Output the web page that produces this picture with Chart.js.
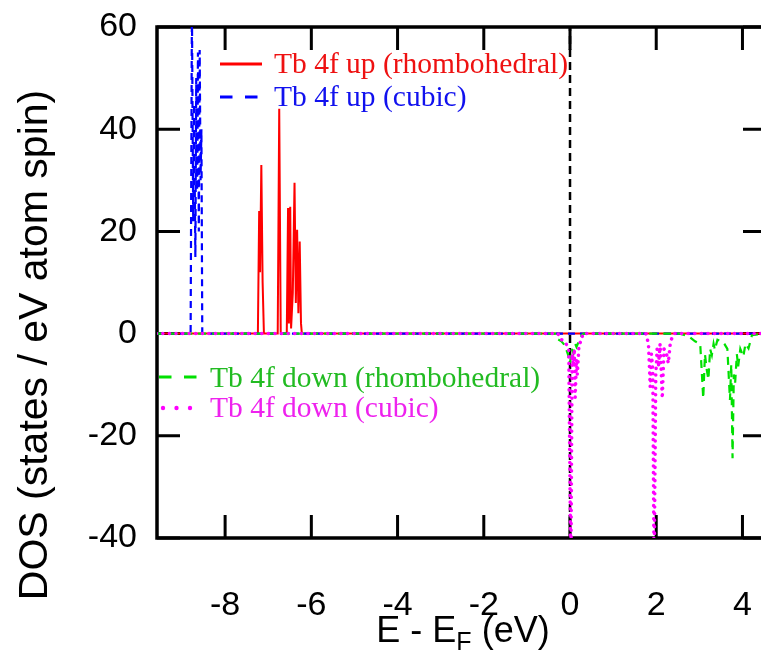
<!DOCTYPE html>
<html><head><meta charset="utf-8">
<script src="https://cdn.jsdelivr.net/npm/chart.js@4.4.1/dist/chart.umd.min.js"></script>
<style>html,body{margin:0;padding:0;background:#fff;}</style>
</head><body>
<canvas id="c" width="761" height="651"></canvas>
<script>
const xTicks = [-8, -6, -4, -2, 0, 2, 4];
const yTicks = [60, 40, 20, 0, -20, -40];
const xMin = -9.58, xMax = 4.43, yMin = -40, yMax = 60;

const labels = ['Tb 4f up (rhombohedral)', 'Tb 4f up (cubic)', 'Tb 4f down (rhombohedral)', 'Tb 4f down (cubic)'];
const xTitle = ['E - E', 'F', ' (eV)'];
const yTitle = 'DOS (states / eV atom spin)';

const upRhomboE = [-9.6, -7.24, -7.21, -7.19, -7.16, -7.13, -7.10, -6.78, -6.745, -6.71, -6.57, -6.54, -6.52, -6.49, -6.47, -6.43, -6.39, -6.36, -6.33, -6.30, -6.27, -6.24, -6.22, 4.5];
const upRhomboDOS = [0, 0, 24, 12, 33, 10, 0, 0, 44, 0, 0, 24.6, 2, 24.8, 1, 8, 29.5, 6, 20.3, 4, 18, 2, 0, 0];

const upCubicE = [-9.6, -8.80, -8.77, -8.74, -8.72, -8.69, -8.67, -8.65, -8.63, -8.61, -8.59, -8.57, -8.55, -8.53, 4.5];
const upCubicDOS = [0, 0, 64, 22, 45, 15, 50, 28, 55, 20, 55.5, 30, 40, 0, 0];

const downRhomboE = [-9.6, -0.35, -0.31, -0.2, -0.12, -0.05, 0.0, 0.04, 0.08, 0.12, 0.15, 0.27, 0.32, 2.55, 2.75, 2.9, 3.02, 3.09, 3.13, 3.17, 3.21, 3.25, 3.29, 3.33, 3.36, 3.42, 3.50, 3.58, 3.65, 3.71, 3.74, 3.77, 3.80, 3.83, 3.87, 3.90, 3.95, 4.02, 4.07, 4.14, 4.22, 4.5];
const downRhomboDOS = [0, 0, -1, -1.5, -2.3, -4, -5.8, -3, -3.8, -2, -2.6, -0.3, 0, 0, -0.5, -1.5, -2, -12.7, -4, -7, -9, -3, -4.2, -2, -3.2, -1.2, -1.5, -2, -3, -13, -6, -24.4, -8, -9.7, -4, -6.5, -3, -4.5, -2, -2.9, -0.3, 0];

const downCubicE = [-9.6, -0.28, -0.23, -0.14, -0.09, -0.03, 0.02, 0.05, 0.08, 0.10, 0.12, 0.15, 0.17, 0.21, 0.26, 0.30, 1.76, 1.82, 1.86, 1.89, 1.92, 1.95, 1.99, 2.02, 2.05, 2.09, 2.14, 2.18, 2.24, 2.28, 2.33, 2.38, 2.42, 4.5];
const downCubicDOS = [0, 0, -1, -1.5, -2, -3, -48, -4, -6, -3, -12.5, -5, -8, -2, -1.5, 0, 0, -2, -10.4, -4, -7, -48, -8, -3, -6.5, -2, -12.7, -3, -4, -5.8, -1.5, -0.6, 0, 0];

const fermiE = [0, 0];
const fermiDOS = [-40, 60];

const pts = (xs, ys) => xs.map((v, i) => ({x: v, y: ys[i]}));

const lineColors = ['#ff0000', '#0000ff', '#00e000', '#ff00ff'];
const textColors = ['#ee1111', '#1111ee', '#22bb22', '#ee22ee'];

const SANS = '"Liberation Sans", Arial, sans-serif';
const SERIF = '"Liberation Serif", "Times New Roman", serif';

const noPad = s => { s.paddingLeft = 0; s.paddingRight = 0; s.paddingTop = 0; s.paddingBottom = 0; };

const framePlugin = {
  id: 'frame',
  beforeDatasetsDraw(chart) {
    const {ctx, chartArea: a, scales: {x, y}} = chart;
    ctx.save();
    ctx.strokeStyle = '#000';
    ctx.lineWidth = 3.5;
    ctx.beginPath();
    ctx.moveTo(a.right + 10, a.top);
    ctx.lineTo(a.left, a.top);
    ctx.lineTo(a.left, a.bottom);
    ctx.lineTo(a.right + 10, a.bottom);
    ctx.stroke();
    const tl = 23, re = a.right + 5;
    ctx.lineWidth = 3;
    ctx.beginPath();
    xTicks.forEach(v => {
      const px = x.getPixelForValue(v);
      ctx.moveTo(px, a.bottom); ctx.lineTo(px, a.bottom - tl);
      ctx.moveTo(px, a.top); ctx.lineTo(px, a.top + tl);
    });
    yTicks.forEach(v => {
      const py = y.getPixelForValue(v);
      ctx.moveTo(a.left, py); ctx.lineTo(a.left + tl, py);
      ctx.moveTo(re, py); ctx.lineTo(re - tl, py);
    });
    ctx.stroke();
    ctx.restore();
  },
  afterDraw(chart) {
    const {ctx} = chart;
    ctx.save();
    const sample = (i, x1, x2, yy) => {
      ctx.strokeStyle = lineColors[i];
      ctx.fillStyle = lineColors[i];
      if (i === 3) {
        [163, 176.5, 190].forEach(cx => { ctx.beginPath(); ctx.arc(cx, yy, 2.2, 0, Math.PI * 2); ctx.fill(); });
        return;
      }
      ctx.lineWidth = 3;
      ctx.setLineDash(i === 0 ? [] : [12.5, 12.5]);
      ctx.beginPath(); ctx.moveTo(x1, yy); ctx.lineTo(x2, yy); ctx.stroke();
      ctx.setLineDash([]);
    };
    sample(0, 220, 262, 64);
    sample(1, 220, 262, 97);
    sample(2, 159, 197, 377);
    sample(3, 159, 197, 408);
    ctx.font = '29.5px ' + SERIF;
    ctx.textBaseline = 'alphabetic';
    ctx.textAlign = 'left';
    const txt = (i, x, yy) => { ctx.fillStyle = textColors[i]; ctx.fillText(labels[i], x, yy); };
    txt(0, 274, 73);
    txt(1, 274, 106);
    txt(2, 210, 387);
    txt(3, 210, 417);

    ctx.fillStyle = '#000';
    const big = '36px ' + SANS, small = '25px ' + SANS;
    ctx.font = big; const w1 = ctx.measureText(xTitle[0]).width; const w3 = ctx.measureText(xTitle[2]).width;
    ctx.font = small; const w2 = ctx.measureText(xTitle[1]).width;
    let sx = 463 - (w1 + w2 + w3) / 2;
    ctx.font = big; ctx.fillText(xTitle[0], sx, 642);
    ctx.font = small; ctx.fillText(xTitle[1], sx + w1, 650);
    ctx.font = big; ctx.fillText(xTitle[2], sx + w1 + w2, 642);

    ctx.translate(47, 345);
    ctx.rotate(-Math.PI / 2);
    ctx.font = '41px ' + SANS;
    ctx.textAlign = 'center';
    ctx.fillText(yTitle, 0, 0);
    ctx.restore();
  }
};

new Chart(document.getElementById('c'), {
  type: 'line',
  data: {
    datasets: [
      {label: 'EF', data: pts(fermiE, fermiDOS), borderColor: '#000', borderWidth: 2.5, borderDash: [8, 5], order: 5},
      {label: labels[0], data: pts(upRhomboE, upRhomboDOS), borderColor: lineColors[0], borderWidth: 2, order: 4},
      {label: labels[1], data: pts(upCubicE, upCubicDOS), borderColor: lineColors[1], borderWidth: 2.2, borderDash: [7, 5], order: 3},
      {label: labels[2], data: pts(downRhomboE, downRhomboDOS), borderColor: lineColors[2], borderWidth: 2.2, borderDash: [8, 6], order: 2},
      {label: labels[3], data: pts(downCubicE, downCubicDOS), borderColor: lineColors[3], borderWidth: 3.5, borderDash: [0.1, 6.5], borderCapStyle: 'round', order: 1}
    ]
  },
  options: {
    responsive: false,
    animation: false,
    devicePixelRatio: 1,
    events: [],
    layout: {padding: {top: 27, left: 0, right: 0, bottom: 0}},
    elements: {point: {radius: 0}, line: {tension: 0, fill: false}},
    plugins: {legend: {display: false}, tooltip: {enabled: false}},
    scales: {
      x: {
        type: 'linear', min: xMin, max: xMax,
        grid: {display: false, drawTicks: false},
        border: {display: false},
        afterBuildTicks: s => { s.ticks = xTicks.map(v => ({value: v})); },
        afterFit: s => { s.height = 113; noPad(s); },
        ticks: {font: {family: SANS, size: 34}, color: '#000', padding: 47, autoSkip: false, maxRotation: 0, callback: v => String(v)}
      },
      y: {
        type: 'linear', min: yMin, max: yMax,
        grid: {display: false, drawTicks: false},
        border: {display: false},
        afterBuildTicks: s => { s.ticks = yTicks.map(v => ({value: v})); },
        afterFit: s => { s.width = 157; noPad(s); },
        ticks: {font: {family: SANS, size: 34}, color: '#000', padding: 20, callback: v => String(v)}
      }
    }
  },
  plugins: [framePlugin]
});
</script>
</body></html>
